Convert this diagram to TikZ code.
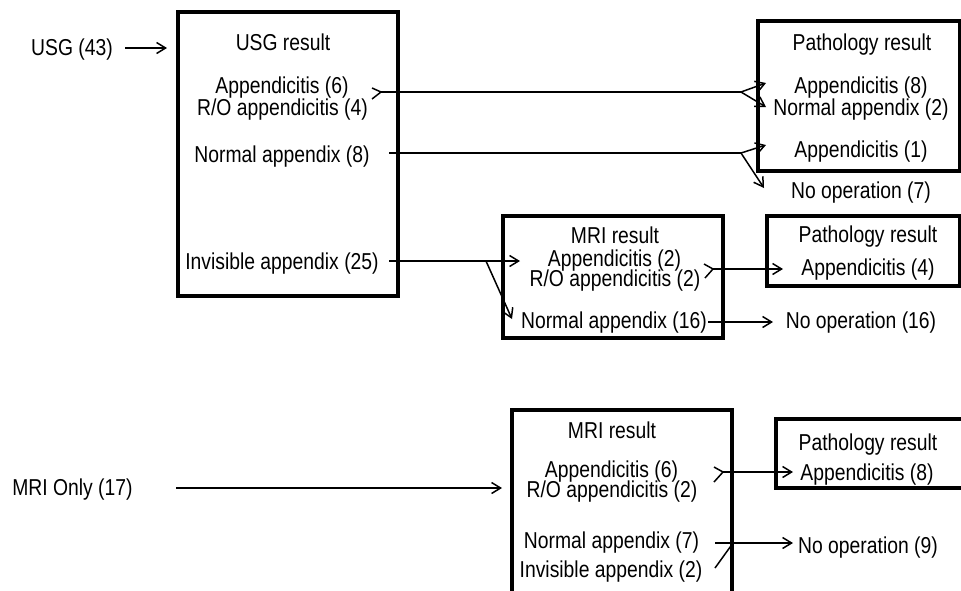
\documentclass[tikz,border=0pt]{standalone}
\usepackage{fontspec}
\setmainfont{Liberation Sans}[FakeStretch=0.84]
\usetikzlibrary{arrows.meta}
\begin{document}
\begin{tikzpicture}[x=1pt,y=-1pt,
  lbl/.style={anchor=base,inner sep=0pt,font=\fontsize{23}{21}\selectfont},
  frame/.style={draw,line width=3.3pt,inner sep=0pt},
  openframe/.style={line width=3.3pt},
  conn/.style={line width=1.5pt},
  arr/.style={conn,-{Straight Barb[length=9pt,width=11pt,line width=1.5pt]}}
]
\fill[white] (0,0) rectangle (961,590);
\useasboundingbox (0,0) rectangle (961,590);

% boxes
\node[frame,minimum width=220pt,minimum height=284pt] (usgbox) at (288,154) {};
\node[frame,minimum width=202pt,minimum height=150pt] (path1) at (859,96) {};
\node[frame,minimum width=220pt,minimum height=122pt] (mri1) at (613,277) {};
\node[frame,minimum width=193pt,minimum height=70pt] (path2) at (863.5,251) {};
\coordinate (mri3bl) at (512,594);
\coordinate (mri3tl) at (512,410);
\coordinate (mri3tr) at (732,410);
\coordinate (mri3br) at (732,594);
\draw[openframe] (mri3bl) -- (mri3tl) -- (mri3tr) -- (mri3br);
\coordinate (path3tr) at (965,419);
\coordinate (path3tl) at (776,419);
\coordinate (path3bl) at (776,488);
\coordinate (path3br) at (965,488);
\draw[openframe] (path3tr) -- (path3tl) -- (path3bl) -- (path3br);

% texts
\node[lbl] (usgin) at (72,55) {USG (43)};
\node[lbl] (usgres) at (283,50) {USG result};
\node[lbl] (uapp) at (282,93) {Appendicitis (6)};
\node[lbl] (uro) at (282.5,115) {R/O appendicitis (4)};
\node[lbl] (unorm) at (282,162) {Normal appendix (8)};
\node[lbl] (uinv) at (282,269) {Invisible appendix (25)};

\node[lbl] (p1res) at (862,50) {Pathology result};
\node[lbl] (p1app) at (861,93) {Appendicitis (8)};
\node[lbl] (p1norm) at (861,115) {Normal appendix (2)};
\node[lbl] (p1app1) at (861,157) {Appendicitis (1)};
\node[lbl] (noop7) at (861,198) {No operation (7)};

\node[lbl] (m1res) at (615,243) {MRI result};
\node[lbl] (m1app) at (614.5,266) {Appendicitis (2)};
\node[lbl] (m1ro) at (615,286) {R/O appendicitis (2)};
\node[lbl] (m1norm) at (614,328) {Normal appendix (16)};
\node[lbl] (p2res) at (868,242) {Pathology result};
\node[lbl] (p2app) at (868,275) {Appendicitis (4)};
\node[lbl] (noop16) at (861,328) {No operation (16)};

\node[lbl] (mrionly) at (72.5,495) {MRI Only (17)};
\node[lbl] (m3res) at (612,438) {MRI result};
\node[lbl] (m3app) at (611.5,477) {Appendicitis (6)};
\node[lbl] (m3ro) at (612,497) {R/O appendicitis (2)};
\node[lbl] (m3norm) at (611.5,548) {Normal appendix (7)};
\node[lbl] (m3inv) at (611,577) {Invisible appendix (2)};
\node[lbl] (p3res) at (868,450) {Pathology result};
\node[lbl] (p3app) at (867,480) {Appendicitis (8)};
\node[lbl] (noop9) at (868,553) {No operation (9)};

% connector points
\coordinate (u0) at (125,48);
\coordinate (u1) at (167,48);
\coordinate (m1a) at (372,88);
\coordinate (m1b) at (372,99);
\coordinate (m1) at (381,92);
\coordinate (s1) at (741,92);
\coordinate (t1a) at (766,83);
\coordinate (t1b) at (766,107);
\coordinate (n0) at (389,153);
\coordinate (s2) at (741,153);
\coordinate (t2a) at (766,145);
\coordinate (t2b) at (764,188);
\coordinate (i0) at (389,261);
\coordinate (i1) at (520,261);
\coordinate (s3) at (486,261);
\coordinate (t3) at (512,319);
\coordinate (m2a) at (704,264);
\coordinate (m2b) at (705,278);
\coordinate (m2) at (713,269);
\coordinate (t4) at (783,269);
\coordinate (n16) at (708,322);
\coordinate (t5) at (773,322);
\coordinate (o0) at (176,488);
\coordinate (o1) at (502,488);
\coordinate (m3a) at (714,467);
\coordinate (m3b) at (714,482);
\coordinate (m3) at (723,472);
\coordinate (t6) at (793,472);
\coordinate (b0) at (715,543);
\coordinate (t7) at (793,543);
\coordinate (b1) at (715,568);
\coordinate (b2) at (733,543);

% connectors
\draw[arr] (u0) -- (u1);
\draw[conn] (m1a) -- (m1) -- (m1b);
\draw[conn] (m1) -- (s1);
\draw[arr] (s1) -- (t1a);
\draw[arr] (s1) -- (t1b);
\draw[conn] (n0) -- (s2);
\draw[arr] (s2) -- (t2a);
\draw[arr] (s2) -- (t2b);
\draw[arr] (i0) -- (i1);
\draw[arr] (s3) -- (t3);
\draw[conn] (m2a) -- (m2) -- (m2b);
\draw[arr] (m2) -- (t4);
\draw[arr] (n16) -- (t5);
\draw[arr] (o0) -- (o1);
\draw[conn] (m3a) -- (m3) -- (m3b);
\draw[arr] (m3) -- (t6);
\draw[arr] (b0) -- (t7);
\draw[conn] (b1) -- (b2);
\end{tikzpicture}
\end{document}
